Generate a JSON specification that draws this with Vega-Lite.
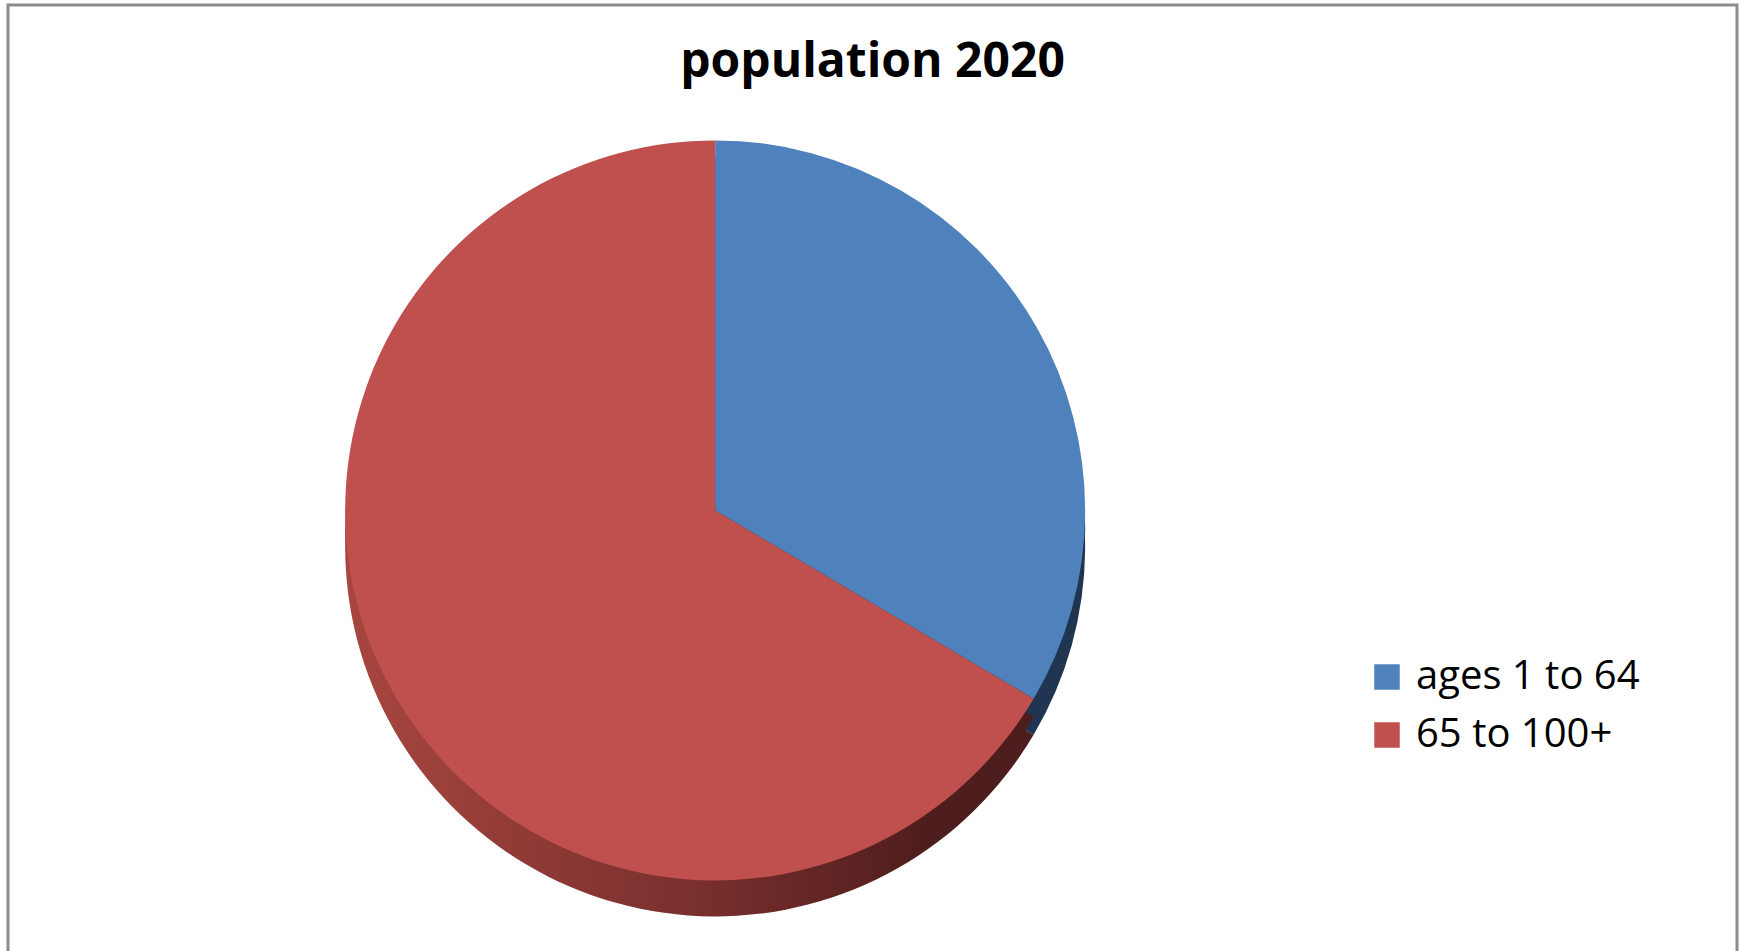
{
  "$schema": "https://vega.github.io/schema/vega-lite/v6.json",
  "width": 1741,
  "height": 951,
  "autosize": {"type": "fit", "contains": "padding"},
  "padding": {"left": 8, "top": 5, "right": 4, "bottom": -4},
  "background": "white",
  "view": {"stroke": "#8c8c8c", "strokeWidth": 3},
  "config": {"view": {"stroke": "#8c8c8c", "strokeWidth": 3}},
  "title": {
    "text": "population 2020",
    "anchor": "middle",
    "offset": -82,
    "font": "Open Sans",
    "fontSize": 48,
    "fontWeight": "bold",
    "color": "#000000"
  },
  "data": {
    "values": [
      {"group": "ages 1 to 64", "value": 33.5},
      {"group": "65 to 100+", "value": 66.5}
    ]
  },
  "layer": [
    {
      "mark": {"type": "arc", "radius": 370, "x": {"expr": "width*0.409"}, "y": {"expr": "height*0.532"}, "yOffset": 36},
      "encoding": {
        "theta": {"field": "value", "type": "quantitative", "stack": true},
        "order": {"field": "group", "sort": "descending"},
        "color": {
          "condition": {"test": "datum.group === '65 to 100+'", "value": {"gradient": "linear", "x1": 0, "y1": 0, "x2": 1, "y2": 0, "stops": [{"offset": 0, "color": "#a8463f"}, {"offset": 0.5, "color": "#7a302e"}, {"offset": 0.85, "color": "#4e1d1d"}, {"offset": 1, "color": "#4e1d1d"}]}},
          "value": "#1f3551"
        }
      }
    },
    {
      "mark": {"type": "arc", "radius": 370, "x": {"expr": "width*0.409"}, "y": {"expr": "height*0.532"}, "yOffset": 18},
      "encoding": {
        "theta": {"field": "value", "type": "quantitative", "stack": true},
        "order": {"field": "group", "sort": "descending"},
        "color": {
          "condition": {"test": "datum.group === '65 to 100+'", "value": {"gradient": "linear", "x1": 0, "y1": 0, "x2": 1, "y2": 0, "stops": [{"offset": 0, "color": "#a8463f"}, {"offset": 0.5, "color": "#7a302e"}, {"offset": 0.85, "color": "#4e1d1d"}, {"offset": 1, "color": "#4e1d1d"}]}},
          "value": "#1f3551"
        }
      }
    },
    {
      "mark": {"type": "arc", "radius": 370, "x": {"expr": "width*0.409"}, "y": {"expr": "height*0.532"}},
      "encoding": {
        "theta": {"field": "value", "type": "quantitative", "stack": true},
        "order": {"field": "group", "sort": "descending"},
        "color": {
          "field": "group",
          "type": "nominal",
          "scale": {"domain": ["ages 1 to 64", "65 to 100+"], "range": ["#4f81bd", "#c0504d"]},
          "legend": {
            "title": null,
            "orient": "none",
            "legendX": 1359,
            "legendY": 652,
            "symbolType": "square",
            "symbolSize": 650,
            "symbolStrokeWidth": 0,
            "labelFont": "Open Sans",
            "labelFontSize": 40,
            "labelColor": "#000000",
            "labelOffset": 9,
            "rowPadding": 18,
            "labelLimit": 400
          }
        }
      }
    }
  ]
}
